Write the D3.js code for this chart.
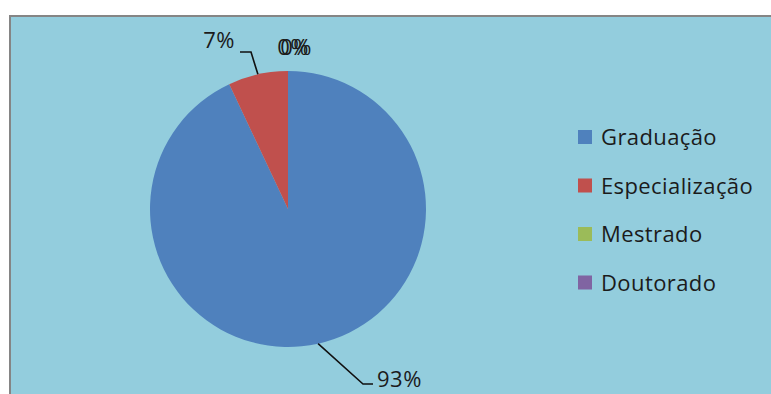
<!DOCTYPE html>
<html>
<head>
<meta charset="utf-8">
<script src="https://cdn.jsdelivr.net/npm/d3@7"></script>
<style>
  html, body { margin: 0; padding: 0; background: #ffffff; }
  svg { display: block; }
  text { font-family: "Open Sans", Lato, sans-serif; fill: #1b1b1b; }
</style>
</head>
<body>
<svg id="chart" width="771" height="394"></svg>
<script>
// Escolaridade – distribuição por nível
const categories = ["Graduação", "Especialização", "Mestrado", "Doutorado"];
const values = [93, 7, 0, 0];
const labels = ["93%", "7%", "0%", "0%"];
const colors = ["#4F81BD", "#C0504D", "#9BBB59", "#8064A2"];

const svg = d3.select("#chart");
const W = 771, H = 394;

// plot area frame
svg.append("rect")
  .attr("x", 10).attr("y", 16)
  .attr("width", W).attr("height", H)
  .attr("fill", "#93CDDD")
  .attr("stroke", "#858585").attr("stroke-width", 2);

const cx = 288, cy = 209, R = 138;
const g = svg.append("g").attr("transform", `translate(${cx},${cy})`);

const pie = d3.pie().sort(null).value(d => d)(values);
const arc = d3.arc().innerRadius(0).outerRadius(R);

g.selectAll("path.slice")
  .data(pie)
  .join("path")
  .attr("class", "slice")
  .attr("d", arc)
  .attr("fill", (d, i) => colors[i]);

// data labels with leader lines
const labelLayout = [
  { text: [89, 178], bend: [75, 175], anchor: "start" },    // 93%
  { text: [-53, -161], bend: [-37, -157], anchor: "end" }, // 7%
  { text: [5, -154], bend: null, anchor: "middle" },       // 0%
  { text: [8, -154], bend: null, anchor: "middle" }        // 0%
];

pie.forEach((d, i) => {
  const L = labelLayout[i];
  const mid = (d.startAngle + d.endAngle) / 2;
  const px = Math.sin(mid) * R, py = -Math.cos(mid) * R;
  if (L.bend) {
    const hx = L.anchor === "start" ? L.bend[0] + 10 : L.bend[0] - 11;
    g.append("path")
      .attr("d", `M${px},${py}L${L.bend[0]},${L.bend[1]}L${hx},${L.bend[1]}`)
      .attr("fill", "none")
      .attr("stroke", "#111")
      .attr("stroke-width", 1.6);
  }
  g.append("text")
    .attr("x", L.text[0]).attr("y", L.text[1])
    .attr("text-anchor", L.anchor)
    .attr("font-size", 22)
    .attr("letter-spacing", 0.5)
    .text(labels[i]);
});

// legend
const legend = svg.append("g").attr("transform", "translate(578,130)");
const rows = legend.selectAll("g")
  .data(categories)
  .join("g")
  .attr("transform", (d, i) => `translate(0,${i * 48.5})`);
rows.append("rect")
  .attr("width", 14).attr("height", 14)
  .attr("fill", (d, i) => colors[i]);
rows.append("text")
  .attr("x", 23).attr("y", 15)
  .attr("font-size", 22)
  .attr("letter-spacing", 0.4)
  .text(d => d);
</script>
</body>
</html>
